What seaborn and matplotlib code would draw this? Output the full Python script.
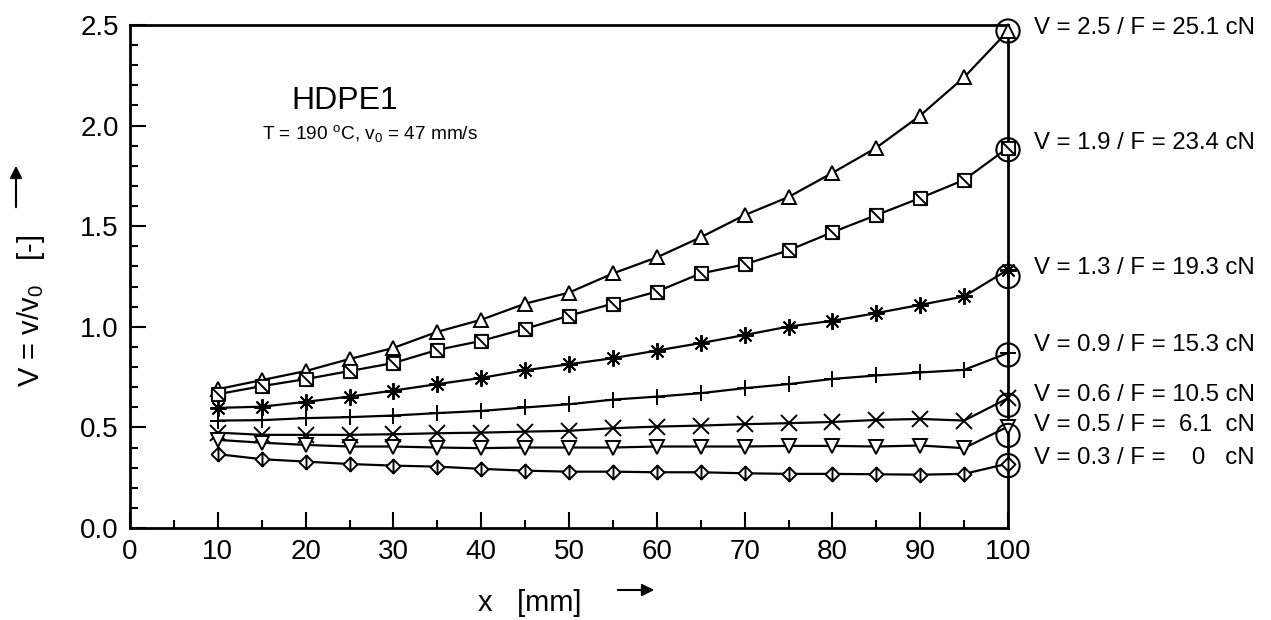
import numpy as np
import pandas as pd
import matplotlib
matplotlib.use("Agg")
import matplotlib.pyplot as plt
from matplotlib.path import Path
from matplotlib.ticker import MultipleLocator
import seaborn as sns

# ---------------- data ----------------
x_pos = [10, 15, 20, 25, 30, 35, 40, 45, 50, 55, 60, 65, 70, 75, 80, 85, 90, 95, 100]

v_25 = [0.69, 0.735, 0.78, 0.84, 0.895, 0.975, 1.035, 1.115, 1.17, 1.265, 1.345, 1.445, 1.555, 1.645, 1.765, 1.89, 2.05, 2.24, 2.47]
v_19 = [0.665, 0.705, 0.74, 0.78, 0.82, 0.885, 0.93, 0.99, 1.055, 1.115, 1.175, 1.265, 1.31, 1.38, 1.47, 1.555, 1.64, 1.73, 1.89]
v_13 = [0.597, 0.603, 0.627, 0.653, 0.683, 0.715, 0.746, 0.784, 0.814, 0.844, 0.882, 0.919, 0.959, 1.001, 1.03, 1.068, 1.109, 1.151, 1.284]
v_09 = [0.534, 0.536, 0.546, 0.551, 0.559, 0.571, 0.582, 0.599, 0.615, 0.638, 0.653, 0.67, 0.695, 0.715, 0.741, 0.758, 0.773, 0.786, 0.87]
v_06 = [0.474, 0.463, 0.463, 0.463, 0.466, 0.471, 0.474, 0.479, 0.483, 0.496, 0.504, 0.509, 0.516, 0.521, 0.527, 0.537, 0.542, 0.534, 0.645]
v_05 = [0.438, 0.424, 0.413, 0.405, 0.405, 0.40, 0.397, 0.40, 0.40, 0.40, 0.405, 0.405, 0.405, 0.408, 0.408, 0.405, 0.41, 0.397, 0.504]
v_03 = [0.367, 0.342, 0.330, 0.318, 0.310, 0.305, 0.294, 0.285, 0.280, 0.280, 0.277, 0.277, 0.272, 0.269, 0.269, 0.267, 0.265, 0.269, 0.32]

series = [v_25, v_19, v_13, v_09, v_06, v_05, v_03]

takeup_x = [100, 100, 100, 100, 100, 100, 100]
takeup_v = [2.47, 1.88, 1.25, 0.86, 0.61, 0.46, 0.31]

labels = [
    "V = 2.5 / F = 25.1 cN",
    "V = 1.9 / F = 23.4 cN",
    "V = 1.3 / F = 19.3 cN",
    "V = 0.9 / F = 15.3 cN",
    "V = 0.6 / F = 10.5 cN",
    "V = 0.5 / F =  6.1  cN",
    "V = 0.3 / F =    0   cN",
]

# ---------------- layout / style ----------------
label_y = [2.485, 1.913, 1.292, 0.910, 0.661, 0.512, 0.348]

sq_diag = Path([(-1, -1), (1, -1), (1, 1), (-1, 1), (-1, -1), (-1, 1), (1, -1)],
               [Path.MOVETO, Path.LINETO, Path.LINETO, Path.LINETO, Path.CLOSEPOLY,
                Path.MOVETO, Path.LINETO])
dia_bar = Path([(0, 1), (1, 0), (0, -1), (-1, 0), (0, 1), (0, 1), (0, -1)],
               [Path.MOVETO, Path.LINETO, Path.LINETO, Path.LINETO, Path.CLOSEPOLY,
                Path.MOVETO, Path.LINETO])
markers = ["^", sq_diag, (8, 2, 0), "+", "x", "v", dia_bar]
msizes = [10.5, 9.5, 12, 12, 11, 10.5, 10]

sns.set_style("ticks")
plt.rcParams["font.family"] = ["Liberation Sans", "DejaVu Sans"]
plt.rcParams["mathtext.fontset"] = "custom"
plt.rcParams["mathtext.rm"] = "Liberation Sans"
plt.rcParams["mathtext.it"] = "Liberation Sans:italic"
for key in ["text.color", "axes.labelcolor", "xtick.color", "ytick.color", "axes.edgecolor"]:
    plt.rcParams[key] = "black"

fig = plt.figure(figsize=(12.71, 6.2), dpi=100)
ax = fig.add_axes([130 / 1271, 1 - 528 / 620, 878 / 1271, 503 / 620])

for yv, mk, ms in zip(series, markers, msizes):
    df = pd.DataFrame({"x": x_pos, "V": yv})
    sns.lineplot(data=df, x="x", y="V", ax=ax, color="black", lw=1.6,
                 marker=mk, ms=ms, mfc="white", mec="black", mew=1.4,
                 errorbar=None, clip_on=False, zorder=3)

sns.scatterplot(x=takeup_x, y=takeup_v, ax=ax, marker="o", s=280,
                facecolors="none", edgecolor="black", linewidth=1.5,
                clip_on=False, zorder=4)

for txt, ly in zip(labels, label_y):
    ax.text(103, ly, txt, fontsize=17.3, ha="left", va="center", color="black")

ax.text(24.5, 2.12, "HDPE1", fontsize=23, ha="center", va="center", color="black")
ax.text(27.3, 1.96, r"T = 190 $^{\mathregular{o}}$C, v$_{\mathregular{0}}$ = 47 mm/s",
        fontsize=13.7, ha="center", va="center", color="black")

ax.set_xlim(0, 100)
ax.set_ylim(0, 2.5)
ax.xaxis.set_major_locator(MultipleLocator(10))
ax.xaxis.set_minor_locator(MultipleLocator(5))
ax.yaxis.set_major_locator(MultipleLocator(0.5))
ax.yaxis.set_minor_locator(MultipleLocator(0.1))
ax.yaxis.set_major_formatter(matplotlib.ticker.FormatStrFormatter("%.1f"))
ax.tick_params(which="both", direction="in", top=False, right=False, width=1.5,
               color="black", labelcolor="black")
ax.tick_params(which="major", length=11.5, labelsize=20, pad=8)
ax.tick_params(which="minor", length=5.8)
for s in ax.spines.values():
    s.set_visible(True)
    s.set_linewidth(2)
    s.set_color("black")
ax.set_xlabel("")
ax.set_ylabel("")

fig.text(530 / 1271, 1 - 603 / 620, "x   [mm]", fontsize=21, ha="center", va="center",
         color="black")
fig.text(31 / 1271, 1 - 311 / 620, r"V = v/v$_{\mathregular{0}}$   [-]", fontsize=21,
         ha="center", va="center", rotation=90, color="black")
ax.annotate("", xy=(657 / 1271, 1 - 590 / 620), xytext=(615 / 1271, 1 - 590 / 620),
            xycoords="figure fraction", textcoords="figure fraction",
            arrowprops=dict(arrowstyle="-|>", color="black", lw=1.5, mutation_scale=18))
ax.annotate("", xy=(16 / 1271, 1 - 163 / 620), xytext=(16 / 1271, 1 - 210 / 620),
            xycoords="figure fraction", textcoords="figure fraction",
            arrowprops=dict(arrowstyle="-|>", color="black", lw=1.5, mutation_scale=18))

fig.savefig("out.png", dpi=100)
